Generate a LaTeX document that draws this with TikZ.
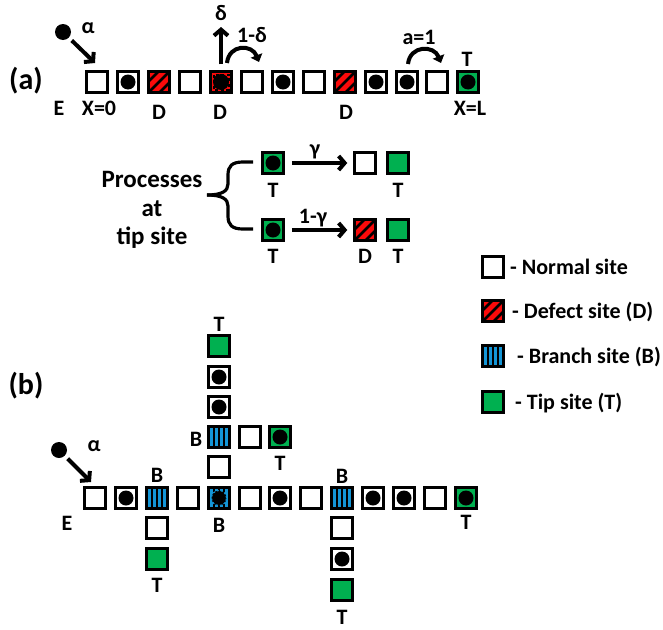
\documentclass[tikz,border=0pt]{standalone}
\usepackage{fontspec}
\setmainfont{Carlito}
\usetikzlibrary{arrows.meta,calc}
\definecolor{tipgreen}{RGB}{0,176,80}
\definecolor{brblue}{RGB}{20,150,215}
\definecolor{defred}{RGB}{250,10,10}
\tikzset{
  site/.style={draw=black, line width=2.5pt, minimum size=21pt, inner sep=0pt, fill=white},
  nsite/.style={site},
  nball/.style={site, path picture={\fill[black] (path picture bounding box.center) circle (7.5pt);}},
  dsite/.style={site, fill=defred, path picture={\foreach \t in {-5.5,0,5.5}{\draw[line width=2.6pt] ($(path picture bounding box.center)+(-20+\t,20+\t)$) -- ($(path picture bounding box.center)+(20+\t,-20+\t)$);}}},
  dball/.style={site, fill=defred, path picture={\fill[black] (path picture bounding box.center) circle (8pt);
      \draw[line width=2pt, dash pattern=on 3pt off 2.5pt] ($(path picture bounding box.center)+(-7.5,-7.5)$) rectangle ($(path picture bounding box.center)+(7.5,7.5)$);}},
  bsite/.style={site, fill=brblue, path picture={\foreach \t in {-4.8,0,4.8}{\draw[line width=1.8pt] ($(path picture bounding box.center)+(\t,-15)$) -- ($(path picture bounding box.center)+(\t,15)$);}}},
  bball/.style={site, fill=brblue, path picture={\foreach \t in {-4.8,0,4.8}{\draw[line width=1.8pt] ($(path picture bounding box.center)+(\t,-15)$) -- ($(path picture bounding box.center)+(\t,15)$);}
      \fill[black] (path picture bounding box.center) circle (7.5pt);
      \draw[brblue, line width=1pt, dash pattern=on 2pt off 2pt] (path picture bounding box.center) circle (7.5pt);}},
  tsite/.style={site, fill=tipgreen},
  tball/.style={site, fill=tipgreen, path picture={\fill[black] (path picture bounding box.center) circle (7.5pt);}},
  lbl/.style={font=\fontsize{22}{26}\selectfont\bfseries, inner sep=0pt},
  big/.style={font=\fontsize{30}{34}\selectfont\bfseries, inner sep=0pt},
  proc/.style={font=\fontsize{25}{29}\selectfont\bfseries, inner sep=0pt, anchor=base},
  leg/.style={font=\fontsize{22}{26}\selectfont\bfseries, inner sep=0pt, anchor=base west},
  thickarrow/.style={line width=4pt, arrows={-Straight Barb[length=6pt,width=14pt]}},
  curv/.style={line width=4pt, arrows={-Triangle[length=7pt,width=12pt]}},
  ballnode/.style={circle, fill=black, minimum size=16pt, inner sep=0pt},
}
\begin{document}
\begin{tikzpicture}[x=1pt,y=-1pt]
\useasboundingbox[fill=white] (0,0) rectangle (663,629);

% ---------- (a) ----------
\node[big] (labA) at (26,81) {(a)};
\node[nsite] (a1) at (97,82) {};
\node[nball] (a2) at (128,82) {};
\node[dsite] (a3) at (159,82) {};
\node[nsite] (a4) at (190,82) {};
\node[dball] (a5) at (221,82) {};
\node[nsite] (a6) at (252,82) {};
\node[nball] (a7) at (283,82) {};
\node[nsite] (a8) at (314,82) {};
\node[dsite] (a9) at (345,82) {};
\node[nball] (a10) at (376,82) {};
\node[nball] (a11) at (407,82) {};
\node[nsite] (a12) at (437,82) {};
\node[tball] (a13) at (468,82) {};

\node[lbl] (aE) at (59,108) {E};
\node[lbl] (aX0) at (99,108) {X=0};
\node[lbl] (aD1) at (159,112) {D};
\node[lbl] (aD2) at (220,112) {D};
\node[lbl] (aD3) at (346,112) {D};
\node[lbl] (aXL) at (470,108) {X=L};
\node[lbl] (aT) at (467,59) {T};

\node[ballnode] (ballA) at (63,32) {};
\node[lbl] (alphaA) at (88,28) {α};
\coordinate (entA) at (95,63);
\draw[thickarrow, shorten <=4pt] (ballA) -- (entA);

\coordinate (delTip) at (221,27);
\draw[thickarrow, shorten <=6pt] (a5) -- (delTip);
\node[lbl] (delA) at (221,13) {δ};

\coordinate (hop1s) at (227,63);
\coordinate (hop1e) at (259,62);
\draw[curv] (hop1s) .. controls (229,44) and (252,44) .. (hop1e);
\node[lbl] (omd) at (252,35) {1-δ};

\coordinate (hop2s) at (408,64);
\coordinate (hop2e) at (441,63);
\draw[curv] (hop2s) .. controls (410,45) and (434,45) .. (hop2e);
\node[lbl] (aeq) at (419,37) {a=1};

% ---------- processes at tip ----------
\node[proc] (pr1) at (152,187) {Processes};
\node[proc] (pr2) at (152,216) {at};
\node[proc] (pr3) at (152,244) {tip site};
\draw[line width=3.2pt] (253,162) -- (243,162) .. controls (232,162) and (228,166) .. (228,175) -- (228,184) .. controls (228,191) and (222,195) .. (207,195);
\draw[line width=3.2pt] (253,229) -- (243,229) .. controls (232,229) and (228,225) .. (228,216) -- (228,206) .. controls (228,199) and (222,195) .. (207,195);

\node[tball] (m1) at (273,163) {};
\node[nsite] (m2) at (365,163) {};
\node[tsite] (m3) at (398,163) {};
\draw[thickarrow, shorten <=7pt, shorten >=6pt] (m1) -- (m2);
\node[lbl] (gam) at (315,152) {γ};
\node[lbl] (mT1) at (273,190) {T};
\node[lbl] (mT2) at (398,190) {T};

\node[tball] (n1) at (273,230) {};
\node[dsite] (n2) at (365,230) {};
\node[tsite] (n3) at (398,230) {};
\draw[thickarrow, shorten <=7pt, shorten >=6pt] (n1) -- (n2);
\node[lbl] (omg) at (313,218) {1-γ};
\node[lbl] (nT1) at (273,256) {T};
\node[lbl] (nD) at (365,256) {D};
\node[lbl] (nT2) at (398,256) {T};

% ---------- legend ----------
\node[nsite] (l1) at (493,267) {};
\node[dsite] (l2) at (493,311) {};
\node[bsite] (l3) at (493,356) {};
\node[tsite] (l4) at (493,402) {};
\node[leg] (lt1) at (510,274) {- Normal site};
\node[leg] (lt2) at (512,318) {- Defect site (D)};
\node[leg] (lt3) at (517,363) {- Branch site (B)};
\node[leg] (lt4) at (515,409) {- Tip site (T)};

% ---------- (b) ----------
\node[big] (labB) at (26,386) {(b)};
\node[nsite] (b1) at (95,498) {};
\node[nball] (b2) at (126,498) {};
\node[bsite] (b3) at (157,498) {};
\node[nsite] (b4) at (188,498) {};
\node[bball] (b5) at (219,498) {};
\node[nsite] (b6) at (250,498) {};
\node[nball] (b7) at (280,498) {};
\node[nsite] (b8) at (311,498) {};
\node[bsite] (b9) at (342,498) {};
\node[nball] (b10) at (373,498) {};
\node[nball] (b11) at (404,498) {};
\node[nsite] (b12) at (435,498) {};
\node[tball] (b13) at (466,498) {};

\node[nsite] (c1) at (157,528) {};
\node[tsite] (c2) at (157,559) {};

\node[nsite] (u1) at (219,467) {};
\node[bsite] (u2) at (219,437) {};
\node[nball] (u3) at (219,407) {};
\node[nball] (u4) at (219,377) {};
\node[tsite] (u5) at (219,346) {};
\node[nsite] (r1) at (250,437) {};
\node[tball] (r2) at (280,437) {};

\node[nsite] (d1) at (342,528) {};
\node[nball] (d2) at (342,559) {};
\node[tsite] (d3) at (342,590) {};

\node[lbl] (bB1) at (157,475) {B};
\node[lbl] (bB2) at (196,439) {B};
\node[lbl] (bB3) at (219,525) {B};
\node[lbl] (bB4) at (342,476) {B};
\node[lbl] (bE) at (67,523) {E};
\node[lbl] (bT1) at (219,324) {T};
\node[lbl] (bT2) at (280,463) {T};
\node[lbl] (bT3) at (157,585) {T};
\node[lbl] (bT4) at (342,617) {T};
\node[lbl] (bT5) at (466,522) {T};

\node[ballnode] (ballB) at (59,450) {};
\node[lbl] (alphaB) at (94,446) {α};
\coordinate (entB) at (91,482);
\draw[thickarrow, shorten <=4pt] (ballB) -- (entB);
\end{tikzpicture}
\end{document}
